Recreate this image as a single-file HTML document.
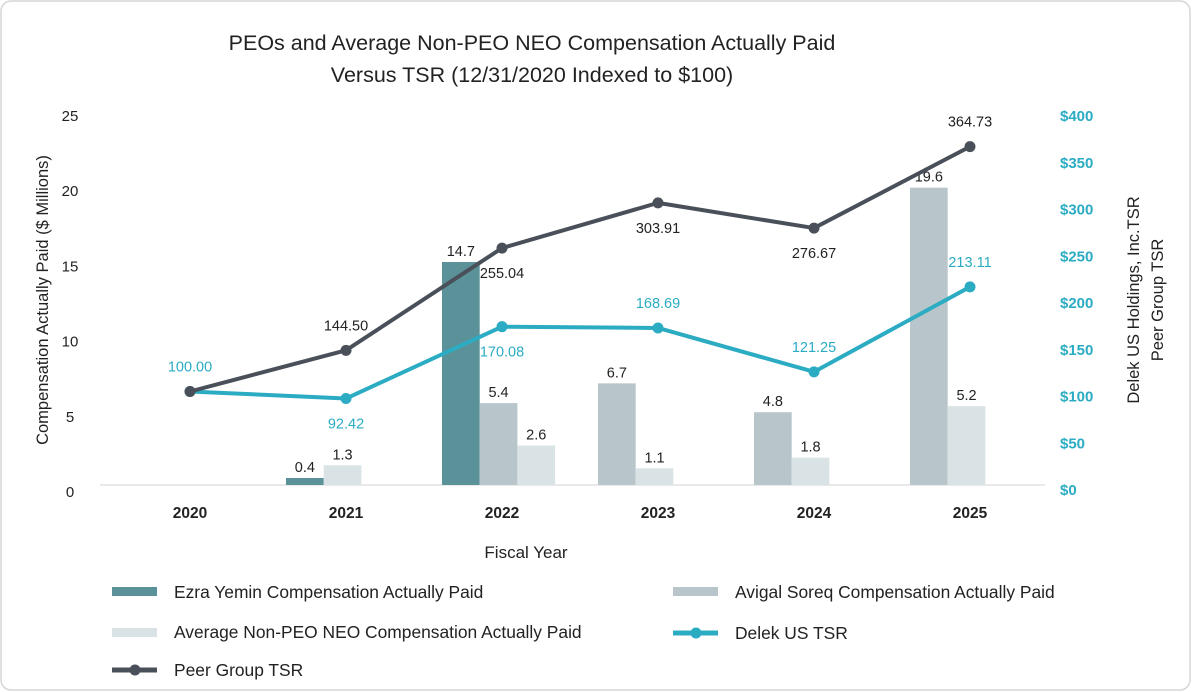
<!DOCTYPE html>
<html><head><meta charset="utf-8"><style>
body{margin:0;background:#fff;font-family:"Liberation Sans",sans-serif;}
svg{display:block}
</style></head><body>
<svg width="1192" height="692" viewBox="0 0 1192 692" id="c">
<rect x="1" y="1" width="1189" height="689" rx="10" fill="#fff" stroke="#d6d6d6" stroke-width="1.5"/>
<text x="532" y="50" text-anchor="middle" font-size="21.5" fill="#222">PEOs and Average Non-PEO NEO Compensation Actually Paid</text>
<text x="532" y="82" text-anchor="middle" font-size="21.5" fill="#222">Versus TSR (12/31/2020 Indexed to $100)</text>
<text transform="translate(48,300) rotate(-90)" text-anchor="middle" font-size="16.5" fill="#222">Compensation Actually Paid ($ Millions)</text>
<text transform="translate(1139,300) rotate(-90)" text-anchor="middle" font-size="16.5" fill="#222">Delek US Holdings, Inc.TSR</text>
<text transform="translate(1163,300) rotate(-90)" text-anchor="middle" font-size="16.5" fill="#222">Peer Group TSR</text>
<text x="526" y="558" text-anchor="middle" font-size="17" fill="#222">Fiscal Year</text>
<line x1="100" y1="485" x2="1045" y2="485" stroke="#e2e2e2" stroke-width="1.5"/>
<g id="g"></g>
<g font-size="17.4" fill="#222">
<rect x="112" y="587" width="45" height="9" fill="#5b9198"/>
<text x="174" y="598">Ezra Yemin Compensation Actually Paid</text>
<rect x="673" y="587" width="45" height="9" fill="#b8c6cb"/>
<text x="735" y="598">Avigal Soreq Compensation Actually Paid</text>
<rect x="112" y="628" width="45" height="9" fill="#d9e3e6"/>
<text x="174" y="638">Average Non-PEO NEO Compensation Actually Paid</text>
<line x1="673" y1="633" x2="718" y2="633" stroke="#2bacc3" stroke-width="5"/>
<circle cx="696" cy="633" r="5.5" fill="#2bacc3"/>
<text x="735" y="639">Delek US TSR</text>
<line x1="112" y1="670" x2="157" y2="670" stroke="#4a5059" stroke-width="5"/>
<circle cx="135" cy="670" r="5.5" fill="#4a5059"/>
<text x="174" y="676">Peer Group TSR</text>
</g>
</svg>
<script>
const years=['2020','2021','2022','2023','2024','2025'];
const yemin=[null,0.4,14.7,null,null,null];
const soreq=[null,null,5.4,6.7,4.8,19.6];
const neo=[null,1.3,2.6,1.1,1.8,5.2];
const delek=[100.00,92.42,170.08,168.69,121.25,213.11];
const peer=[100.00,144.50,255.04,303.91,276.67,364.73];
const delekSide=[-1,1,1,-1,-1,-1];
const peerSide=[0,-1,1,1,1,-1];
const leftTicks=[0,5,10,15,20,25];
const rightTicks=[0,50,100,150,200,250,300,350,400];
const NS='http://www.w3.org/2000/svg';
const g=document.getElementById('g');
const x=i=>190+i*156;
const yL=v=>485-v*15.17;
const yR=v=>484-v*0.925;
const yLt=v=>491-v*15.04;
const yRt=v=>489-v*0.935;
function mk(t,a){const e=document.createElementNS(NS,t);for(const k in a)e.setAttribute(k,a[k]);g.appendChild(e);return e;}
leftTicks.forEach(v=>{const e=mk('text',{x:70,y:yLt(v)+6,'text-anchor':'middle','font-size':15,fill:'#222'});e.textContent=v;

});
rightTicks.forEach(v=>{const e=mk('text',{x:1060,y:yRt(v)+6,'font-size':15,'font-weight':'bold',fill:'#2bacc3'});e.textContent='$'+v;

});
years.forEach((yr,i)=>{const e=mk('text',{x:x(i),y:518,'text-anchor':'middle','font-size':15.5,'font-weight':'bold',fill:'#222'});e.textContent=yr;

});
const series=[[yemin,'#5b9198','yemin'],[soreq,'#b8c6cb','soreq'],[neo,'#d9e3e6','neo']];
const bw=37.7;
years.forEach((yr,i)=>{
 const pres=series.filter(s=>s[0][i]!=null);
 pres.forEach((s,j)=>{
  const v=s[0][i];const bx=x(i)-60+j*bw;
  const h=Math.max(485-yL(v),7);
  const r=mk('rect',{x:bx,y:485-h,width:bw,height:h,fill:s[1]});
  
  
  const t=mk('text',{x:bx+bw/2,y:485-h-6,'text-anchor':'middle','font-size':14.5,fill:'#222'});t.textContent=v;
  
  
 });
});
function line(data,col,name,side,lc){
 const p=mk('polyline',{points:data.map((v,i)=>x(i)+','+yR(v)).join(' '),fill:'none',stroke:col,'stroke-width':4,'stroke-linejoin':'round'});
 
 
 data.forEach((v,i)=>{
  const c=mk('circle',{cx:x(i),cy:yR(v),r:5.5,fill:col});
  
  
  if(side[i]){const t=mk('text',{x:x(i),y:yR(v)+(side[i]<0?-20:30),'text-anchor':'middle','font-size':14.5,fill:lc});t.textContent=v.toFixed(2);
  
  }
 });
}
line(delek,'#2bacc3','delek-tsr',delekSide,'#2bacc3');
line(peer,'#4a5059','peer-tsr',peerSide,'#222');
</script>
</body></html>
